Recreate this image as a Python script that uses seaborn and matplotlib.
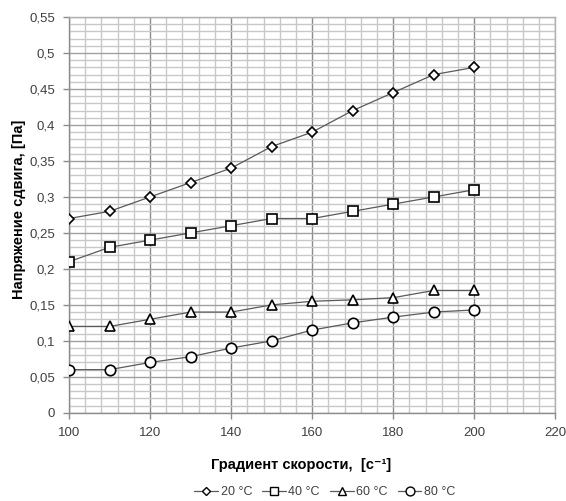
import matplotlib
matplotlib.use("Agg")
import matplotlib.pyplot as plt
import seaborn as sns
import pandas as pd
from matplotlib.ticker import MultipleLocator, FuncFormatter
from matplotlib.lines import Line2D

x_vals = [100, 110, 120, 130, 140, 150, 160, 170, 180, 190, 200]
s20 = [0.27, 0.28, 0.30, 0.32, 0.34, 0.37, 0.39, 0.42, 0.445, 0.47, 0.48]
s40 = [0.21, 0.23, 0.24, 0.25, 0.26, 0.27, 0.27, 0.28, 0.29, 0.30, 0.31]
s60 = [0.12, 0.12, 0.13, 0.14, 0.14, 0.15, 0.155, 0.157, 0.16, 0.17, 0.17]
s80 = [0.06, 0.06, 0.07, 0.078, 0.09, 0.10, 0.115, 0.125, 0.133, 0.14, 0.143]
series_names = ["20 °C", "40 °C", "60 °C", "80 °C"]

df = pd.concat([
    pd.DataFrame({"x": x_vals, "y": v, "series": n})
    for n, v in zip(series_names, [s20, s40, s60, s80])
])

sns.set_theme(style="white")
plt.rcParams['font.family'] = ['Liberation Sans', 'DejaVu Sans']

fig = plt.figure(figsize=(5.66, 5.01), dpi=100)
ax = fig.add_axes([0.122, 0.176, 0.859, 0.790])

markers = {"20 °C": "D", "40 °C": "s", "60 °C": "^", "80 °C": "o"}
sizes = {"20 °C": 5, "40 °C": 7, "60 °C": 6.5, "80 °C": 7.5}
for n in series_names:
    sub = df[df.series == n]
    sns.lineplot(data=sub, x="x", y="y", ax=ax, color="#5a5a5a", lw=0.9,
                 marker=markers[n], markersize=sizes[n], markerfacecolor="white",
                 markeredgecolor="black", markeredgewidth=1.2, legend=False, zorder=3)

ax.set_xlim(100, 220)
ax.set_ylim(0, 0.55)
ax.xaxis.set_major_locator(MultipleLocator(20))
ax.xaxis.set_minor_locator(MultipleLocator(4))
ax.yaxis.set_major_locator(MultipleLocator(0.05))
ax.yaxis.set_minor_locator(MultipleLocator(0.01))
ax.grid(which="major", axis="x", color="#8c8c8c", lw=1.0)
ax.grid(which="major", axis="y", color="#a0a0a0", lw=1.0)
ax.grid(which="minor", color="#c8c8c8", lw=1.0)
ax.set_axisbelow(True)

def yfmt(v, p):
    s = f"{v:.2f}".rstrip("0").rstrip(".")
    return s.replace(".", ",")
ax.yaxis.set_major_formatter(FuncFormatter(yfmt))

for side in ["left", "bottom"]:
    ax.spines[side].set_color("#8c8c8c")
    ax.spines[side].set_linewidth(1.0)
for side in ["top", "right"]:
    ax.spines[side].set_color("#b0b0b0")
    ax.spines[side].set_linewidth(1.0)

ax.tick_params(axis="both", which="major", length=4, width=1, color="#8c8c8c",
               labelsize=9.5, labelcolor="#404040", direction="out", pad=6)
ax.tick_params(axis="both", which="minor", length=0)
ax.tick_params(left=True, bottom=True)

ax.set_xlabel("Градиент скорости,  [с⁻¹]", fontsize=10.5, fontweight="bold", color="black")
ax.set_ylabel("Напряжение сдвига, [Па]", fontsize=10.5, fontweight="bold", color="black")
ax.xaxis.set_label_coords(0.478, -0.115)
ax.yaxis.set_label_coords(-0.088, 0.513)

handles = [Line2D([0], [0], color="#5a5a5a", lw=0.9, marker=markers[n],
                  markersize=sizes[n] * 0.85, markerfacecolor="white",
                  markeredgecolor="black", markeredgewidth=1.0) for n in series_names]
leg = fig.legend(handles, series_names, loc="center", bbox_to_anchor=(0.574, 0.018),
                 ncol=4, frameon=False, fontsize=9, handlelength=1.9,
                 columnspacing=0.8, handletextpad=0.2)
for t in leg.get_texts():
    t.set_color("#404040")

fig.savefig("out.png", dpi=100)
